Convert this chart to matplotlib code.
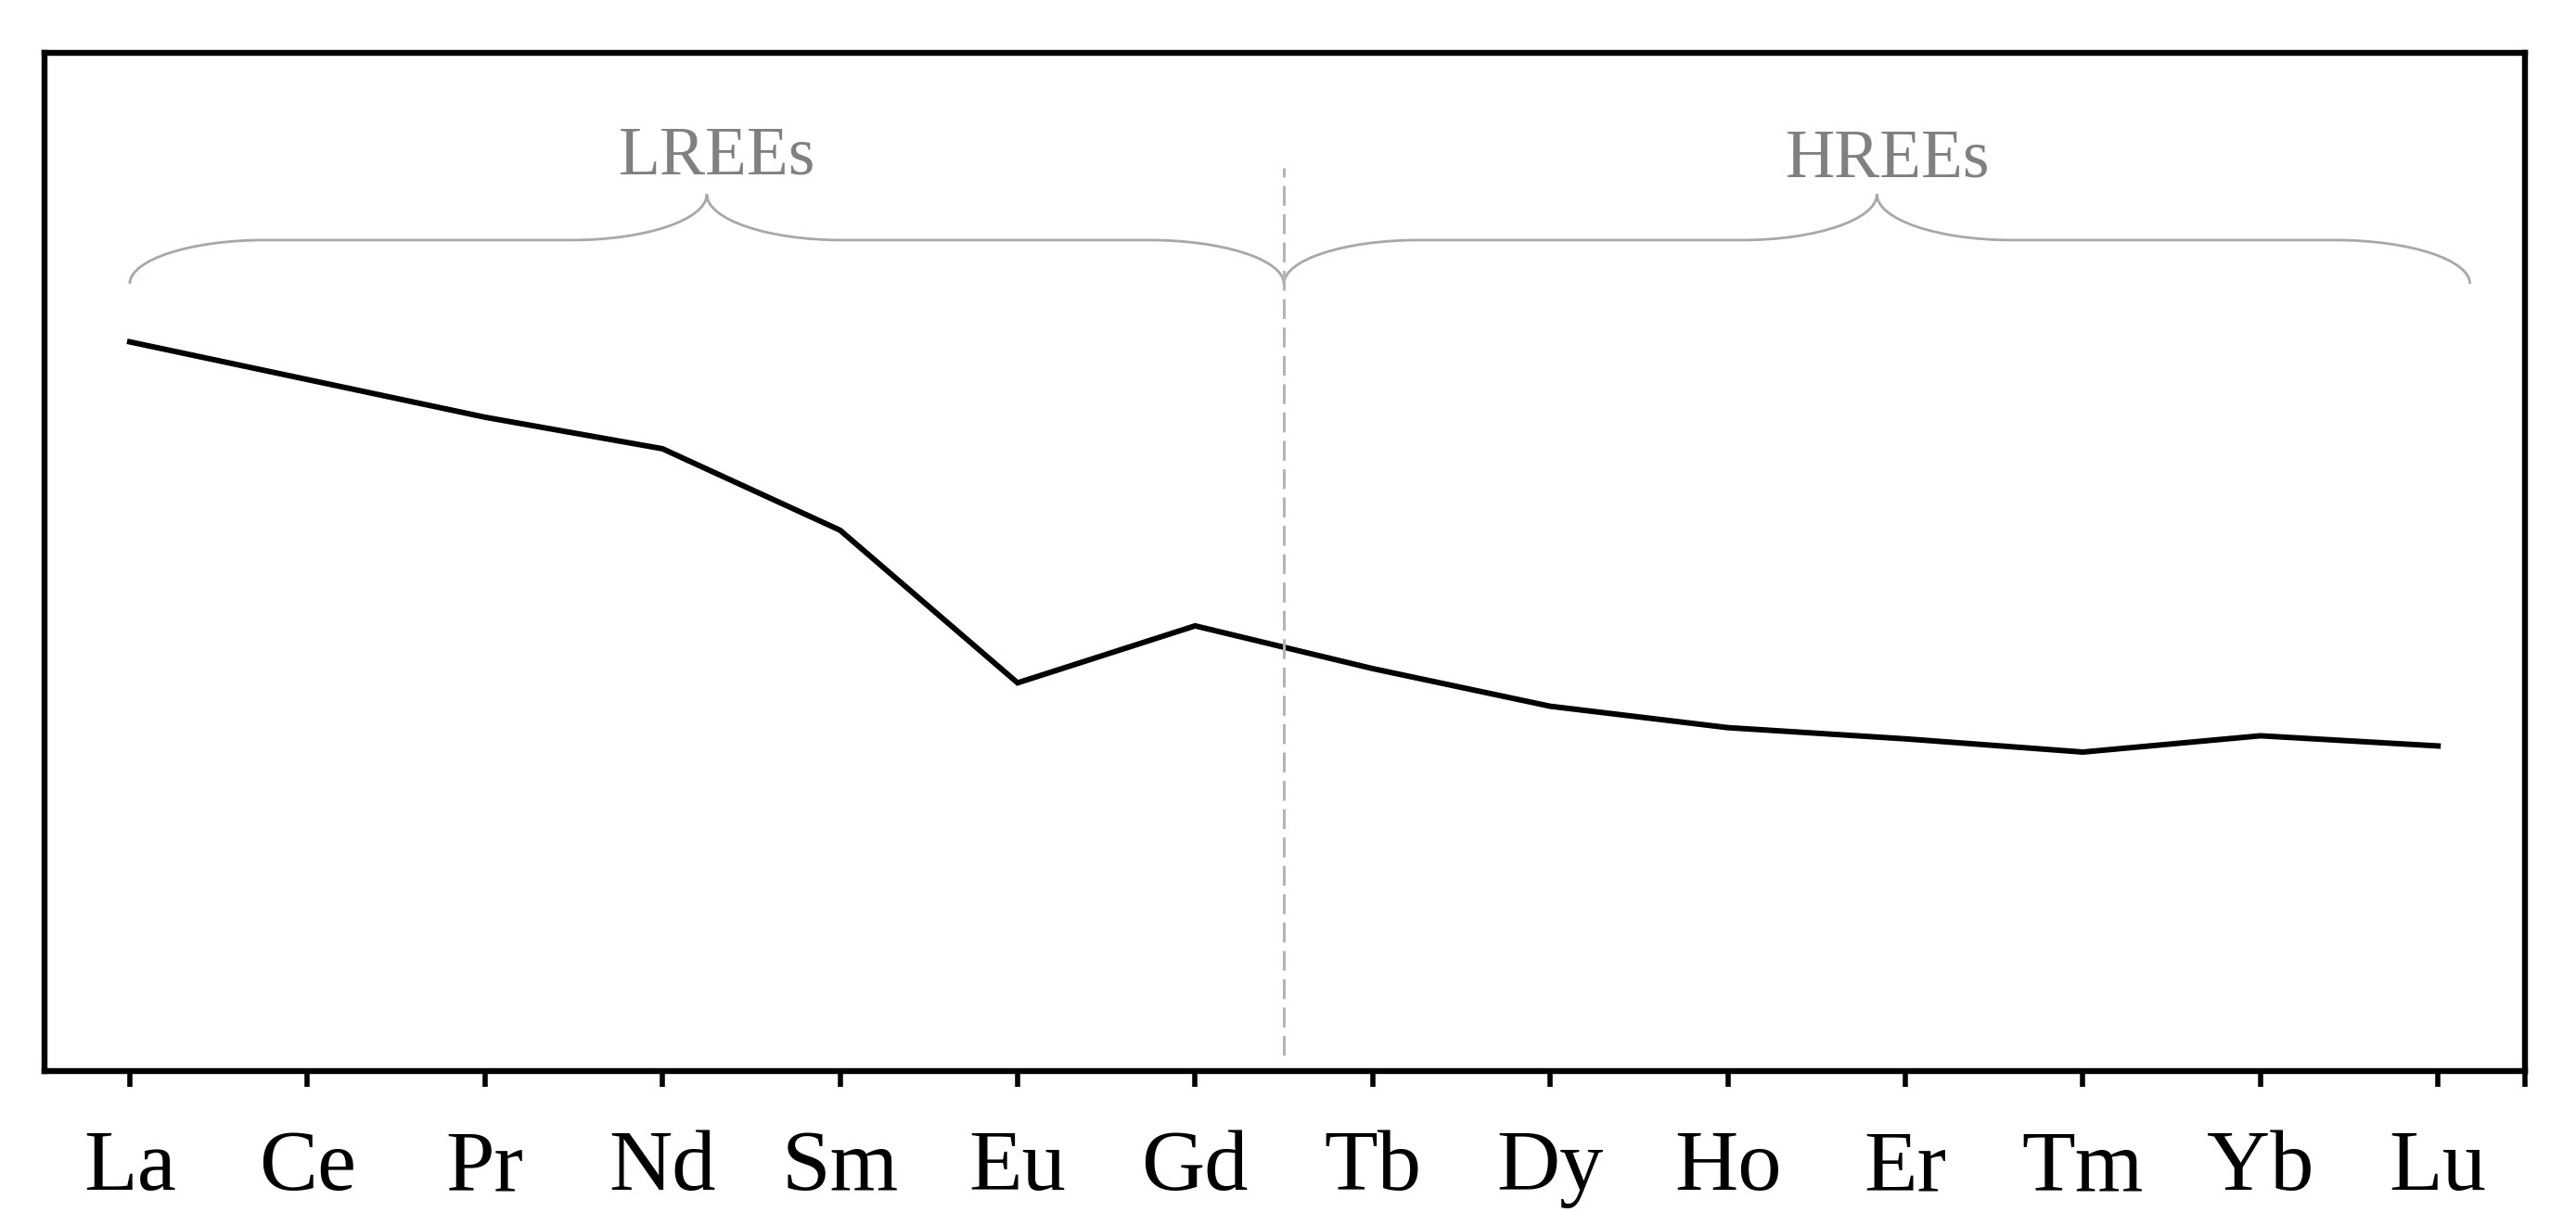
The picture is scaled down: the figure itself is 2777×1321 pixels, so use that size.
import numpy as np
import matplotlib
matplotlib.use("Agg")
import matplotlib.pyplot as plt
from matplotlib.path import Path
from matplotlib.patches import PathPatch

# REE pattern (arbitrary normalised units, y axis has no scale)
elements = ["La", "Ce", "Pr", "Nd", "Sm", "Eu", "Gd", "Tb", "Dy", "Ho", "Er", "Tm", "Yb", "Lu"]
values = [71.6, 67.9, 64.2, 61.1, 53.1, 38.1, 43.7, 39.5, 35.8, 33.7, 32.6, 31.3, 32.9, 31.9]

groups = ["LREEs", "HREEs"]
group_spans = [(0.0, 6.5), (6.5, 13.18)]
split_x = 6.5

plt.rcParams['font.family'] = ['Liberation Serif', 'DejaVu Serif']

def brace(ax, x0, x1, y_end, y_flat, y_tip, w, **kw):
  tx = (x0 + x1) / 2.0
  k = 0.55
  verts = [
    (x0, y_end),
    (x0, y_end + k * (y_flat - y_end)), (x0 + w * (1 - k), y_flat), (x0 + w, y_flat),
    (tx - w, y_flat),
    (tx - w * (1 - k), y_flat), (tx, y_tip - k * (y_tip - y_flat)), (tx, y_tip),
    (tx, y_tip - k * (y_tip - y_flat)), (tx + w * (1 - k), y_flat), (tx + w, y_flat),
    (x1 - w, y_flat),
    (x1 - w * (1 - k), y_flat), (x1, y_end + k * (y_flat - y_end)), (x1, y_end),
  ]
  codes = [Path.MOVETO,
           Path.CURVE4, Path.CURVE4, Path.CURVE4,
           Path.LINETO,
           Path.CURVE4, Path.CURVE4, Path.CURVE4,
           Path.CURVE4, Path.CURVE4, Path.CURVE4,
           Path.LINETO,
           Path.CURVE4, Path.CURVE4, Path.CURVE4]
  ax.add_patch(PathPatch(Path(verts, codes), fill=False, **kw))
  return tx

fig = plt.figure(figsize=(27.77, 13.21), dpi=100)
ax = fig.add_axes([0.0173, 0.126, 0.9629, 0.8309])

x = np.arange(len(elements))
ax.plot(x, values, color="black", lw=4.3, solid_joinstyle="miter")

ax.plot([split_x, split_x], [1.5, 88.7], color="#b4b4b4", lw=2.2, ls=(0, (7, 3)))

label_y = [88.1, 87.8]
for name, (a, b), ly in zip(groups, group_spans, label_y):
  tx = brace(ax, a, b, 77.3, 81.6, 86.1, 0.76, edgecolor="#a8a8a8", lw=2.0)
  ax.text(tx + 0.06, ly, name, ha="center", va="baseline", fontsize=53, color="#808080")

ax.set_xlim(-0.48, 13.49)
ax.set_ylim(0, 100)
ax.set_xticks(x)
ax.set_xticklabels(elements, fontsize=68)
ax.set_xticks([13.49], minor=True)
ax.tick_params(axis="x", which="both", direction="out", length=12, width=4.0, pad=34)
ax.set_yticks([])
for s in ax.spines.values():
  s.set_linewidth(4.6)

fig.savefig("out.png", dpi=100)
